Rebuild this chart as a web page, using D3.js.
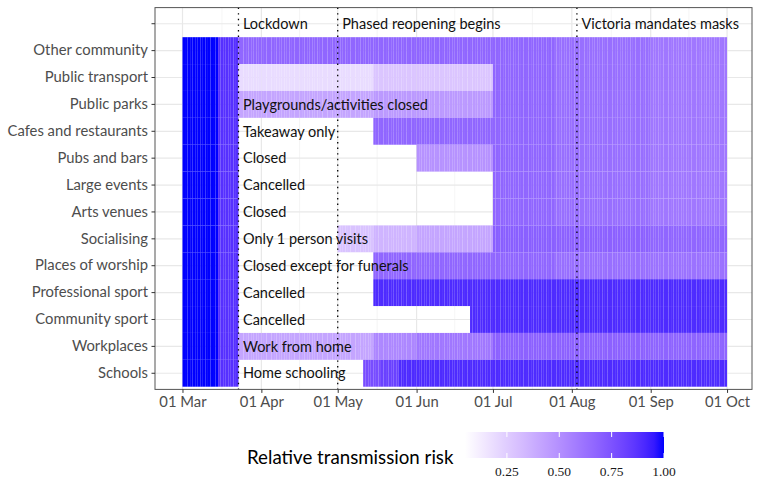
<!DOCTYPE html>
<html><head><meta charset="utf-8">
<script src="https://cdn.jsdelivr.net/npm/d3@7"></script>
<style>body{margin:0;background:#fff}</style>
</head><body>
<svg id="chart" width="761" height="496"></svg>
<script>
// ---------- data ----------
const categories = ["", "Other community", "Public transport", "Public parks", "Cafes and restaurants",
  "Pubs and bars", "Large events", "Arts venues", "Socialising", "Places of worship",
  "Professional sport", "Community sport", "Workplaces", "Schools"];
// change dates; each value holds until the next date (last until endDate)
const breakDates = ["2020-03-01","2020-03-15","2020-03-23","2020-05-01","2020-05-11","2020-05-15",
  "2020-05-18","2020-05-25","2020-06-01","2020-06-22","2020-07-01","2020-07-25","2020-09-01"];
const endDate = "2020-10-01";
// null = closed (no tile)
const otherCommunity    = [1, .88, .67, .67, .67, .67, .67, .67, .67, .67, .67, .635, .60];
const publicTransport   = [1, .88, .19, .19, .19, .28, .28, .28, .28, .28, .67, .635, .60];
const publicParks       = [1, .88, .41, .41, .41, .46, .46, .46, .46, .46, .67, .635, .60];
const cafesRestaurants  = [1, .88, null, null, null, .67, .67, .67, .67, .67, .67, .635, .60];
const pubsBars          = [1, .88, null, null, null, null, null, null, .49, .49, .67, .635, .60];
const largeEvents       = [1, .88, null, null, null, null, null, null, null, null, .67, .635, .60];
const artsVenues        = [1, .88, null, null, null, null, null, null, null, null, .67, .635, .60];
const socialising       = [1, .88, null, .29, .29, .35, .35, .35, .41, .41, .70, .69, .67];
const placesOfWorship   = [1, .88, null, null, null, .67, .67, .67, .67, .67, .67, .635, .62];
const professionalSport = [1, .88, null, null, null, .90, .90, .90, .90, .90, .90, .90, .90];
const communitySport    = [1, .88, null, null, null, null, null, null, null, .90, .90, .90, .90];
const workplaces        = [1, .88, .41, .41, .41, .535, .535, .535, .60, .60, .69, .69, .68];
const schools           = [1, .88, null, null, .77, .77, .82, .90, .90, .90, .90, .90, .90];
const rowValues = {
  "Other community": otherCommunity, "Public transport": publicTransport, "Public parks": publicParks,
  "Cafes and restaurants": cafesRestaurants, "Pubs and bars": pubsBars, "Large events": largeEvents,
  "Arts venues": artsVenues, "Socialising": socialising, "Places of worship": placesOfWorship,
  "Professional sport": professionalSport, "Community sport": communitySport,
  "Workplaces": workplaces, "Schools": schools
};
const restrictionLabels = [
  ["Public parks", "Playgrounds/activities closed"], ["Cafes and restaurants", "Takeaway only"],
  ["Pubs and bars", "Closed"], ["Large events", "Cancelled"], ["Arts venues", "Closed"],
  ["Socialising", "Only 1 person visits"], ["Places of worship", "Closed except for funerals"],
  ["Professional sport", "Cancelled"], ["Community sport", "Cancelled"],
  ["Workplaces", "Work from home"], ["Schools", "Home schooling"]
];
const labelDate = "2020-03-23";
const eventDates = ["2020-03-23", "2020-05-01", "2020-08-03"];
const eventLabels = ["Lockdown", "Phased reopening begins", "Victoria mandates masks"];
const xTickDates = ["2020-03-01","2020-04-01","2020-05-01","2020-06-01","2020-07-01","2020-08-01","2020-09-01","2020-10-01"];
const legendTicks = [0.25, 0.50, 0.75, 1.00];
const riskLimits = [0.05, 1];

// ---------- layout ----------
const P = {left: 155, right: 752, top: 7.6, bottom: 389.4};
const parse = d3.utcParse("%Y-%m-%d");
const DAY = 864e5;
const mar1 = parse("2020-03-01");
const x = d3.scaleUtc()
  .domain([new Date(+mar1 - 10.8 * DAY), new Date(+mar1 + 223.8 * DAY)])
  .range([P.left, P.right]);
const y = d3.scaleBand().domain(categories).range([P.top, P.bottom]).paddingInner(0).paddingOuter(0.1);
const color = d3.scaleLinear().domain(riskLimits).range(["white", "blue"]).interpolate(d3.interpolateLab);

const svg = d3.select("#chart");
const font = "Lato, 'Open Sans', sans-serif";

// panel background + grid
const g = svg.append("g");
g.append("rect").attr("x", P.left).attr("y", P.top).attr("width", P.right - P.left).attr("height", P.bottom - P.top).attr("fill", "#fff");
const majors = xTickDates.map(parse);
const minors = d3.pairs(majors).map(([a, b]) => new Date((+a + +b) / 2));
minors.unshift(new Date(+majors[0] - (majors[1] - majors[0]) / 2));
g.selectAll(".minor").data(minors.filter(d => x(d) > P.left)).join("line")
  .attr("x1", d => x(d)).attr("x2", d => x(d)).attr("y1", P.top).attr("y2", P.bottom)
  .attr("stroke", "#f0f0f0").attr("stroke-width", 0.7);
g.selectAll(".major").data(majors).join("line")
  .attr("x1", d => x(d)).attr("x2", d => x(d)).attr("y1", P.top).attr("y2", P.bottom)
  .attr("stroke", "#e8e8e8").attr("stroke-width", 1.2);
g.selectAll(".hmajor").data(categories).join("line")
  .attr("x1", P.left).attr("x2", P.right)
  .attr("y1", d => y(d) + y.bandwidth() / 2).attr("y2", d => y(d) + y.bandwidth() / 2)
  .attr("stroke", "#e8e8e8").attr("stroke-width", 1.2);

// daily tiles
const tiles = [];
const ends = breakDates.slice(1).concat([endDate]).map(parse);
Object.entries(rowValues).forEach(([cat, vals]) => {
  breakDates.forEach((bd, i) => {
    if (vals[i] == null) return;
    d3.utcDay.range(parse(bd), ends[i]).forEach(day => tiles.push({cat, day, v: vals[i]}));
  });
});
g.selectAll(".tile").data(tiles).join("rect")
  .attr("x", d => x(d.day)).attr("width", d => x(d3.utcDay.offset(d.day, 1)) - x(d.day))
  .attr("y", d => y(d.cat)).attr("height", y.bandwidth())
  .attr("fill", d => color(d.v));

// restriction labels
g.selectAll(".rl").data(restrictionLabels).join("text")
  .attr("x", x(parse(labelDate)) + 4.5).attr("y", d => y(d[0]) + y.bandwidth() / 2)
  .attr("dy", "0.36em").attr("font-family", font).attr("font-size", 14.5).attr("fill", "#111")
  .text(d => d[1]);

// event lines and labels
g.selectAll(".ev").data(eventDates).join("line")
  .attr("x1", d => x(parse(d))).attr("x2", d => x(parse(d))).attr("y1", P.top).attr("y2", P.bottom)
  .attr("stroke", "#000").attr("stroke-width", 1.3).attr("stroke-dasharray", "1.4,4.2");
g.selectAll(".evl").data(eventDates).join("text")
  .attr("x", d => x(parse(d)) + 4.5).attr("y", y("") + y.bandwidth() / 2)
  .attr("dy", "0.36em").attr("font-family", font).attr("font-size", 14.5).attr("fill", "#111")
  .text((d, i) => eventLabels[i]);

// border
svg.append("rect").attr("x", P.left).attr("y", P.top).attr("width", P.right - P.left).attr("height", P.bottom - P.top)
  .attr("fill", "none").attr("stroke", "#555").attr("stroke-width", 1);

// axes
const xAxis = d3.axisBottom(x).tickValues(majors).tickFormat(d3.utcFormat("%d %b")).tickSize(3.5).tickPadding(3.5);
const xa = svg.append("g").attr("transform", `translate(0,${P.bottom})`).call(xAxis);
const yAxis = d3.axisLeft(y).tickSize(3.5).tickPadding(3.5);
const ya = svg.append("g").attr("transform", `translate(${P.left},0)`).call(yAxis);
[xa, ya].forEach(a => {
  a.select(".domain").remove();
  a.selectAll(".tick line").attr("stroke", "#333");
  a.selectAll(".tick text").attr("fill", "#4d4d4d").attr("font-family", font).attr("font-size", 14.8);
});

// legend
const lg = svg.append("g");
const bar = {x0: 465, x1: 664, y0: 432, y1: 458};
const lx = d3.scaleLinear().domain(riskLimits).range([bar.x0, bar.x1]);
const defs = svg.append("defs");
const grad = defs.append("linearGradient").attr("id", "riskgrad");
d3.range(0, 1.0001, 0.05).forEach(t => {
  grad.append("stop").attr("offset", t).attr("stop-color", color(riskLimits[0] + t * (riskLimits[1] - riskLimits[0])));
});
lg.append("rect").attr("x", bar.x0).attr("y", bar.y0).attr("width", bar.x1 - bar.x0).attr("height", bar.y1 - bar.y0)
  .attr("fill", "url(#riskgrad)");
legendTicks.forEach(v => {
  const px = lx(v);
  lg.append("line").attr("x1", px).attr("x2", px).attr("y1", bar.y0).attr("y2", bar.y0 + 5).attr("stroke", "#fff").attr("stroke-width", 1);
  lg.append("line").attr("x1", px).attr("x2", px).attr("y1", bar.y1 - 5).attr("y2", bar.y1).attr("stroke", "#fff").attr("stroke-width", 1);
  lg.append("text").attr("x", px).attr("y", bar.y1 + 13).attr("dy", "0.36em").attr("text-anchor", "middle")
    .attr("font-family", "'Liberation Serif', serif").attr("font-size", 13.5).attr("fill", "#1a1a1a")
    .text(d3.format(".2f")(v));
});
lg.append("text").attr("x", 247).attr("y", 457).attr("dy", "0.36em")
  .attr("font-family", font).attr("font-size", 18.7).attr("fill", "#000").text("Relative transmission risk");
</script>
</body></html>
